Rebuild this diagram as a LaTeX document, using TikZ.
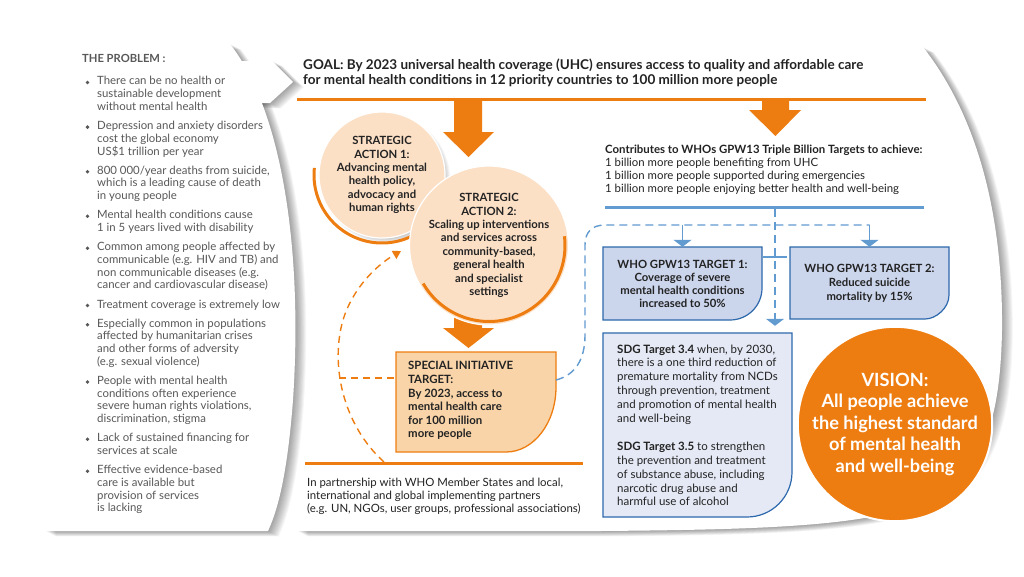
\documentclass[tikz,border=0pt]{standalone}
\usepackage{fontspec}
\setmainfont{Lato}
\usetikzlibrary{arrows.meta}
\definecolor{org}{RGB}{238,125,17}
\definecolor{peach}{RGB}{252,224,198}
\definecolor{sifill}{RGB}{249,212,168}
\definecolor{bline}{RGB}{98,155,208}
\definecolor{bdark}{RGB}{45,105,172}
\definecolor{tfill}{RGB}{203,213,236}
\definecolor{sfill}{RGB}{229,233,245}
\definecolor{txt}{RGB}{35,35,35}
\definecolor{ptxt}{RGB}{88,88,88}
\begin{document}
\begin{tikzpicture}[x=1pt,y=-1pt,
  every node/.style={inner sep=0pt},
  prob/.style={font=\fontsize{11.4}{12.7}\selectfont, text=ptxt, align=left, anchor=north west},
  bul/.style={circle, fill=ptxt, minimum size=3.8pt, inner sep=0pt},
  body/.style={font=\fontsize{11.4}{13}\selectfont, text=txt, align=left, anchor=north west},
  sacirc/.style={circle, fill=peach, draw=white, line width=1.2pt, text=txt, align=center, font=\bfseries\fontsize{11.3}{13.4}\selectfont},
  tboxshape/.style={fill=tfill, draw=bdark, line width=1.2pt},
  ttext/.style={align=center, text=txt, font=\bfseries\fontsize{11.3}{13}\selectfont},
  oline/.style={draw=org, line width=3pt},
  odash/.style={draw=org, line width=1.4pt, dash pattern=on 7pt off 5pt},
  bdash/.style={draw=bline, line width=1.4pt, dash pattern=on 8pt off 5pt},
  barrow/.style={draw=bline, line width=1.5pt, -{Triangle[width=18pt,length=7pt]}},
]
\useasboundingbox (0,0) rectangle (1024,576);

% ---------- main panel ----------
\foreach \s in {1,...,12}{
  \begin{scope}[shift={(0.9*\s,0.45*\s)}]
  \fill[black,opacity=0.035] (297,47) -- (923,47) .. controls (980,120) and (1003,220) .. (1002,330) .. controls (1000,440) and (975,500) .. (880,515) .. controls (820,528) and (720,530) .. (600,531) -- (297,531) -- cycle;
  \end{scope}}
\fill[white] (297,47) -- (923,47) .. controls (980,120) and (1003,220) .. (1002,330) .. controls (1000,440) and (975,500) .. (880,515) .. controls (820,528) and (720,530) .. (600,531) -- (297,531) -- cycle;

% ---------- left panel and tab ----------
\foreach \s in {1,...,12}{
  \begin{scope}[shift={(0.9*\s,0.45*\s)}]
  \fill[black,opacity=0.035] (45,44) -- (230,44) .. controls (282,110) and (303,250) .. (293,400) .. controls (288,465) and (280,505) .. (268,531) -- (45,531) -- cycle;
  \fill[black,opacity=0.035] (226,61) -- (272,61) -- (293,82) -- (270,103) -- (226,103) -- cycle;
  \end{scope}}
\fill[white] (45,44) -- (230,44) .. controls (282,110) and (303,250) .. (293,400) .. controls (288,465) and (280,505) .. (268,531) -- (45,531) -- cycle;
\fill[white] (226,61) -- (272,61) -- (293,82) -- (270,103) -- (226,103) -- cycle;

% ---------- the problem ----------
\node[font=\bfseries\fontsize{11.2}{12}\selectfont, text=ptxt, anchor=north west] (ph) at (82,54.5) {THE PROBLEM :};
\node[bul] (b1) at (87.5,82.5) {};
\node[prob] (p1) at (97,76.4) {There can be no health or\\sustainable development\\without mental health};
\node[bul] (b2) at (87.5,127.1) {};
\node[prob] (p2) at (97,121) {Depression and anxiety disorders\\cost the global economy\\US\$1 trillion per year};
\node[bul] (b3) at (87.5,171.7) {};
\node[prob] (p3) at (97,165.6) {800 000/year deaths from suicide,\\which is a leading cause of death\\in young people};
\node[bul] (b4) at (87.5,216.3) {};
\node[prob] (p4) at (97,210.2) {Mental health conditions cause\\1 in 5 years lived with disability};
\node[bul] (b5) at (87.5,248.2) {};
\node[prob] (p5) at (97,242.1) {Common among people affected by\\communicable (e.g. HIV and TB) and\\non communicable diseases (e.g.\\cancer and cardiovascular disease)};
\node[bul] (b6) at (87.5,305.5) {};
\node[prob] (p6) at (97,299.4) {Treatment coverage is extremely low};
\node[bul] (b7) at (87.5,324.7) {};
\node[prob] (p7) at (97,318.6) {Especially common in populations\\affected by humanitarian crises\\and other forms of adversity\\(e.g. sexual violence)};
\node[bul] (b8) at (87.5,382) {};
\node[prob] (p8) at (97,375.9) {People with mental health\\conditions often experience\\severe human rights violations,\\discrimination, stigma};
\node[bul] (b9) at (87.5,439.3) {};
\node[prob] (p9) at (97,433.2) {Lack of sustained financing for\\services at scale};
\node[bul] (b10) at (87.5,471.2) {};
\node[prob] (p10) at (97,465.1) {Effective evidence-based\\care is available but\\provision of services\\is lacking};

% ---------- goal ----------
\node[font=\bfseries\fontsize{13.5}{15.5}\selectfont, text=txt, align=left, anchor=north west] (goal) at (303,58.4) {GOAL: By 2023 universal health coverage (UHC) ensures access to quality and affordable care\\for mental health conditions in 12 priority countries to 100 million more people};
\draw[oline] (297,99) -- (926,99);

% block arrows
\fill[org] (454,99) -- (482,99) -- (482,132) -- (494,132) -- (468.5,157) -- (443,132) -- (454,132) -- cycle;
\fill[org] (762,99) -- (789,99) -- (789,110) -- (801,110) -- (775.5,136) -- (749,110) -- (762,110) -- cycle;
\fill[org] (454,300) -- (482,300) -- (482,328) -- (494,328) -- (468.5,348) -- (443,328) -- (454,328) -- cycle;

% ---------- strategic actions ----------
\foreach \r in {0,...,4} \fill[black,opacity=0.04] (386,179) circle[radius=60+\r];
\node[sacirc, minimum size=126] (sa1) at (382,175) {STRATEGIC\\ACTION 1:\\Advancing mental\\health policy,\\advocacy and\\human rights};
\draw[org, line width=3pt] plot[domain=62:186, samples=60] ({382+68*cos(\x)},{175+68*sin(\x)});
\foreach \r in {0,...,4} \fill[black,opacity=0.04] (492,249) circle[radius=69+\r];
\node[sacirc, minimum size=144] (sa2) at (489,245.5) {STRATEGIC\\ACTION 2:\\Scaling up interventions\\and services across\\community-based,\\general health\\and specialist\\settings};
\draw[org, line width=3pt] plot[domain=-7:150, samples=60] ({489+76*cos(\x)},{245.5+76*sin(\x)});

% ---------- special initiative ----------
\draw[fill=sifill, draw=org, line width=1.3pt] (396,352) -- (556,352) -- (556,387) .. controls (556,422.9) and (533.6,452) .. (506,452) -- (396,452) -- cycle;
\node[minimum width=160, minimum height=100] (si) at (476,402) {};
\node[font=\bfseries\fontsize{11.4}{13.6}\selectfont, text=txt, align=left, anchor=north west] (sitext) at (408,361.4) {SPECIAL INITIATIVE\\TARGET:\\By 2023, access to\\mental health care\\for 100 million\\more people};

\draw[oline] (305,463) -- (583,463);
\node[body] (part) at (307,477.4) {In partnership with WHO Member States and local,\\international and global implementing partners\\(e.g. UN, NGOs, user groups, professional associations)};

% orange dashed feedback
\coordinate (oa) at (384,462);
\coordinate (otip) at (401,251);
\draw[odash, -{Triangle[length=8pt,width=9pt]}] (oa) .. controls (343,425) and (330,365) .. (343,320) .. controls (352,290) and (375,266) .. (otip);
\coordinate (ol) at (339,378);
\draw[odash] (ol) -- (ol -| si.west);

% ---------- contributes ----------
\node[font=\fontsize{11.4}{13.3}\selectfont, text=txt, align=left, anchor=north west] (contrib) at (605,144.4) {\textbf{Contributes to WHOs GPW13 Triple Billion Targets to achieve:}\\1 billion more people benefiting from UHC\\1 billion more people supported during emergencies\\1 billion more people enjoying better health and well-being};
\draw[draw=bline, line width=3pt] (605,207) -- (924,207);

% ---------- target boxes ----------
\draw[tboxshape] (603,247) -- (762,247) -- (762,288) .. controls (762,305.7) and (747.7,320) .. (730,320) -- (603,320) -- cycle;
\node[ttext, minimum width=159, minimum height=73] (t1) at (682.5,283.5) {WHO GPW13 TARGET 1:\\Coverage of severe\\mental health conditions\\increased to 50\%};
\draw[tboxshape] (790,247) -- (949,247) -- (949,295) .. controls (949,308.3) and (935.7,319) .. (925,319) -- (790,319) -- cycle;
\node[ttext, minimum width=159, minimum height=72, font=\bfseries\fontsize{11.3}{14}\selectfont] (t2) at (869.5,283) {WHO GPW13 TARGET 2:\\Reduced suicide\\mortality by 15\%};
\draw[fill=sfill, draw=bdark, line width=1.2pt] (603,333) -- (792,333) -- (792,472) .. controls (792,496.9) and (771.9,517) .. (747,517) -- (603,517) -- cycle;
\node[minimum width=189, minimum height=184] (sdg) at (697.5,425) {};
\node[font=\fontsize{11.5}{13.9}\selectfont, text=txt, align=left, anchor=north west] (sdgtext) at (617,344.4) {\textbf{SDG Target 3.4} when, by 2030,\\there is a one third reduction of\\premature mortality from NCDs\\through prevention, treatment\\and promotion of mental health\\and well-being\\[13.9pt]\textbf{SDG Target 3.5} to strengthen\\the prevention and treatment\\of substance abuse, including\\narcotic drug abuse and\\harmful use of alcohol};

% ---------- blue dashed connectors ----------
\coordinate (sr) at (556,380);
\coordinate (d1) at (682.5,225);
\coordinate (d2) at (869.5,225);
\draw[bdash] (sr) .. controls (575,375) and (585,360) .. (585,335) -- (585,245) .. controls (585,232) and (592,225) .. (605,225) -- (d2);
\draw[barrow] (d1) -- (t1.north);
\draw[barrow] (d2) -- (t2.north);
\coordinate (vt) at (775,209);
\draw[bdash] (vt) -- (775,318);
\draw[barrow, shorten >=7pt] (775,316) -- (vt |- sdg.north);
\draw[draw=bline, line width=1.5pt] (763,257) -- (787,257);

% ---------- vision ----------
\foreach \r in {0,...,5} \fill[black,opacity=0.035] (898,428) circle[radius=88+\r];
\node[circle, fill=org, draw=white, line width=2pt, minimum size=182, text=white, align=center, font=\bfseries\fontsize{18.2}{21.5}\selectfont] (vis) at (895,424) {VISION:\\All people achieve\\the highest standard\\of mental health\\and well-being};
\end{tikzpicture}
\end{document}
